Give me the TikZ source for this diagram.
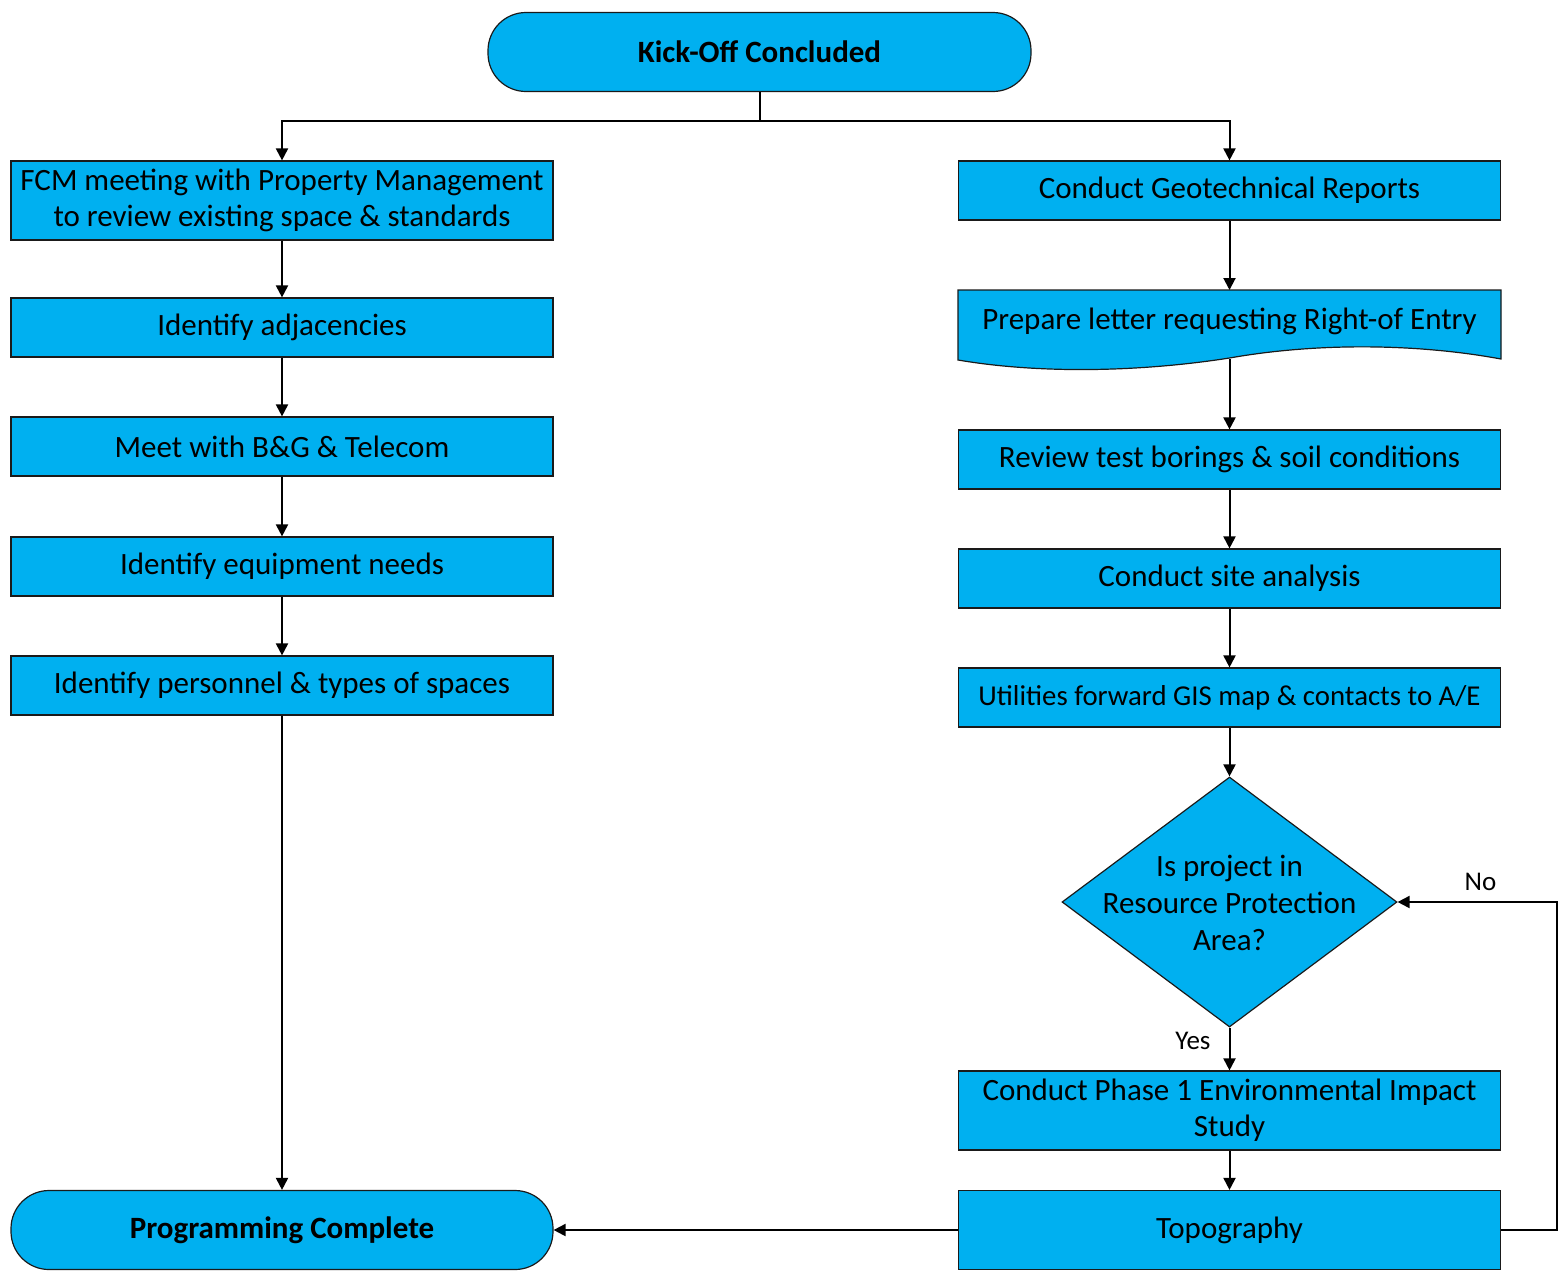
\documentclass[tikz,border=0pt]{standalone}
\usepackage{fontspec}
\setmainfont{Carlito}
\usetikzlibrary{shapes.geometric,arrows.meta}
\definecolor{boxblue}{HTML}{00B0F0}
\definecolor{edge}{HTML}{1A1A1A}

\begin{document}
\begin{tikzpicture}[x=0.5pt,y=-0.5pt,
  every node/.style={font=\fontsize{15.5}{18}\selectfont, text=black},
  stepbox/.style={rectangle, draw=edge, line width=0.6pt, fill=boxblue,
    minimum width=271pt, minimum height=29.5pt, inner sep=0pt, align=center},
  tallbox/.style={stepbox, minimum height=39.5pt},
  terminal/.style={tallbox, rounded corners=19pt,
    font=\fontsize{15.5}{18}\selectfont\bfseries},
  link/.style={draw=black, line width=1pt, -{Triangle[length=6pt,width=6pt]}},
  plain/.style={draw=black, line width=1pt},
  lbl/.style={font=\fontsize{13.5}{16}\selectfont, inner sep=2pt}
]
\useasboundingbox (0,0) rectangle (1564,1275);

% start and end terminals
\node[terminal, minimum width=271.5pt] (start) at (759.5,52) {Kick-Off Concluded};
\node[terminal] (done) at (282,1230) {Programming Complete};

% left branch
\node[tallbox] (fcm) at (282,200.5) {FCM meeting with Property Management\\to review existing space \& standards};
\node[stepbox] (adj) at (282,327.5) {Identify adjacencies};
\node[stepbox] (meet) at (282,446.5) {Meet with B\&G \& Telecom};
\node[stepbox] (equip) at (282,566.5) {Identify equipment needs};
\node[stepbox] (pers) at (282,685.5) {Identify personnel \& types of spaces};

% right branch
\node[stepbox] (geo) at (1229.5,190.5) {Conduct Geotechnical Reports};

% document shape with wavy bottom edge
\node[rectangle, minimum width=271.5pt, minimum height=34pt, inner sep=0pt, anchor=north] (letter) at (1229.5,290) {};
\draw[draw=edge, line width=0.6pt, fill=boxblue]
  (958,290) -- (1501,290) -- (1501,359)
  .. controls (1420,344) and (1320,342) .. (1229.5,358)
  .. controls (1140,372) and (1040,374) .. (958,360) -- cycle;
\node (lettertext) at (1229.5,321) {Prepare letter requesting Right-of Entry};

\node[stepbox] (soil) at (1229.5,459.5) {Review test borings \& soil conditions};
\node[stepbox] (site) at (1229.5,578.5) {Conduct site analysis};
\node[stepbox, font=\fontsize{14.4}{17}\selectfont] (gis) at (1229.5,697.5) {Utilities forward GIS map \& contacts to A/E};

% decision
\node[diamond, draw=edge, fill=boxblue, line width=0.6pt, inner sep=0pt,
  minimum width=167.5pt, minimum height=125pt] (rpa) at (1229.5,902) {};
\node[align=center, font=\fontsize{15.5}{18.5}\selectfont] (rpatext) at (1229.5,903) {Is project in\\Resource Protection\\Area?};

\node[tallbox] (phase) at (1229.5,1110.5) {Conduct Phase 1 Environmental Impact\\Study};
\node[tallbox] (topo) at (1229.5,1230) {Topography};

% connectors
\coordinate (split) at (759.5,121);
\coordinate (loop) at (1557,1230);
\draw[plain] (start.south) -- (split);
\draw[link] (split) -| (fcm.north);
\draw[link] (split) -| (geo.north);

\draw[link] (fcm) -- (adj);
\draw[link] (adj) -- (meet);
\draw[link] (meet) -- (equip);
\draw[link] (equip) -- (pers);
\draw[link] (pers) -- (done);

\draw[link] (geo) -- (letter.north);
\draw[link] (letter.south) -- (soil);
\draw[link] (soil) -- (site);
\draw[link] (site) -- (gis);
\draw[link] (gis) -- (rpa.north);
\draw[link] (rpa.south) -- node[lbl, pos=0.32, left=7pt] {Yes} (phase.north);
\draw[link] (phase) -- (topo);
\draw[link] (topo.west) -- (done.east);
\draw[link] (topo.east) -- (loop) |- (rpa.east) node[lbl, pos=0.74, above=3pt] {No};
\end{tikzpicture}
\end{document}
